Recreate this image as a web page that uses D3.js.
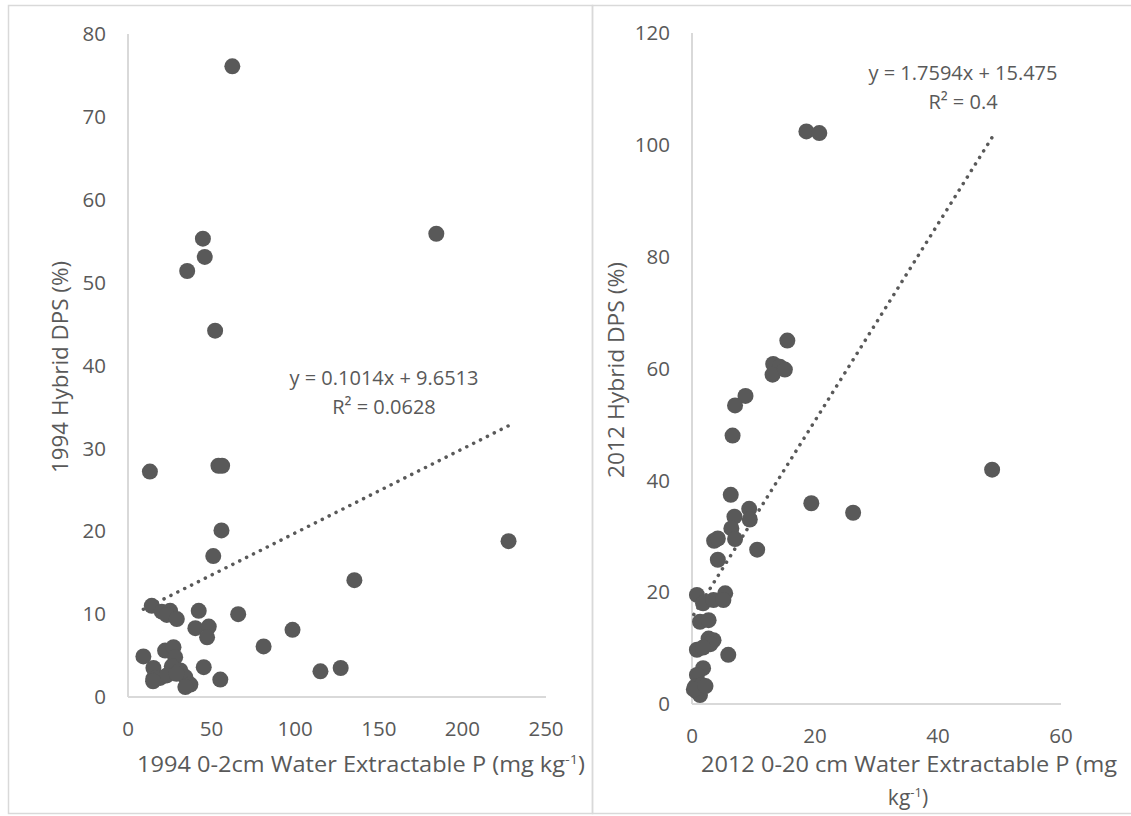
<!DOCTYPE html>
<html><head><meta charset="utf-8">
<script src="https://cdn.jsdelivr.net/npm/d3@7"></script>
<style>body{margin:0;background:#fff}svg{display:block}text{font-family:"Open Sans",sans-serif;fill:#595959}</style>
</head><body><svg id="c" width="1131" height="816"></svg>
<script>
// ---- data: 1994 panel ----
const x1994 = [62.4,184.4,44.8,45.9,35.4,52.1,13.1,54.1,56.3,55.9,51.0,227.6,135.4,14.2,20.2,25.2,23.2,29.2,42.3,65.9,40.3,48.3,47.3,98.4,81.1,9.2,22.2,27.2,28.2,26.2,15.2,15.2,19.2,23.2,31.3,34.3,37.3,34.3,45.3,55.2,115.1,127.2,15.0,29.0];
const y1994 = [76.1,55.9,55.3,53.1,51.4,44.2,27.2,27.9,27.9,20.1,17.0,18.8,14.1,11.0,10.3,10.4,9.9,9.4,10.4,10.0,8.3,8.5,7.2,8.1,6.1,4.9,5.6,6.0,4.8,3.7,3.5,2.2,2.3,2.6,3.2,2.4,1.5,1.2,3.6,2.1,3.1,3.5,1.9,2.8];
const xTicks1994 = [0,50,100,150,200,250];
const yTicks1994 = [0,10,20,30,40,50,60,70,80];
const fit1994 = {slope:0.1014, intercept:9.6513, eq:"y = 0.1014x + 9.6513", r2:"R² = 0.0628"};
// ---- data: 2012 panel ----
const x2012 = [18.6,20.7,48.8,19.4,26.2,15.5,13.2,14.3,13.1,15.1,8.7,7.0,6.6,6.3,9.3,9.4,6.9,6.4,7.0,3.6,4.2,10.6,4.2,0.8,1.8,3.5,5.4,5.1,1.3,2.7,2.7,3.5,3.0,0.8,1.8,5.9,1.8,0.8,0.5,1.6,0.8,1.3,0.3,2.2];
const y2012 = [102.4,102.1,41.9,35.9,34.2,65.0,60.8,60.3,58.9,59.8,55.1,53.4,48.0,37.4,34.9,33.0,33.5,31.4,29.5,29.2,29.6,27.6,25.8,19.5,18.0,18.6,19.8,18.6,14.7,15.0,11.7,11.4,10.7,9.7,10.1,8.8,6.4,5.2,3.1,3.4,2.2,1.6,2.6,3.2];
const xTicks2012 = [0,20,40,60];
const yTicks2012 = [0,20,40,60,80,100,120];
const fit2012 = {slope:1.7594, intercept:15.475, eq:"y = 1.7594x + 15.475", r2:"R² = 0.4"};

const svg = d3.select("#c");
const GRID = "#d9d9d9", INK = "#595959";

// frames
svg.append("rect").attr("x",8.5).attr("y",5.5).attr("width",584).attr("height",808).attr("fill","none").attr("stroke",GRID).attr("stroke-width",1.5);
svg.append("rect").attr("x",592.5).attr("y",5.5).attr("width",560).attr("height",808).attr("fill","none").attr("stroke",GRID).attr("stroke-width",1.5);

function panel(o){
  const x = d3.scaleLinear().domain(o.xd).range(o.xr);
  const y = d3.scaleLinear().domain(o.yd).range(o.yr);
  const g = svg.append("g");
  g.append("line").attr("x1",o.xr[0]).attr("x2",o.xr[0]).attr("y1",o.yr[0]).attr("y2",o.yr[1]).attr("stroke",GRID).attr("stroke-width",2);
  g.append("line").attr("x1",o.xr[0]).attr("x2",o.xr[1]).attr("y1",o.yr[0]).attr("y2",o.yr[0]).attr("stroke",GRID).attr("stroke-width",2);
  g.selectAll(".yt").data(o.yt).join("text").attr("x",o.xr[0]-22).attr("y",d=>y(d)).attr("dy","0.35em")
    .attr("text-anchor","end").attr("font-size",20.5).text(d=>d);
  g.selectAll(".xt").data(o.xt).join("text").attr("x",d=>x(d)).attr("y",o.yr[0]+32).attr("dy","0.35em")
    .attr("text-anchor","middle").attr("font-size",20.5).text(d=>d);
  const xs = d3.extent(o.xs);
  g.append("line").attr("x1",x(xs[0])).attr("y1",y(o.fit.slope*xs[0]+o.fit.intercept))
    .attr("x2",x(xs[1])).attr("y2",y(o.fit.slope*xs[1]+o.fit.intercept))
    .attr("stroke",INK).attr("stroke-width",3.5).attr("stroke-linecap","round").attr("stroke-dasharray","0.1 7.6");
  g.selectAll("circle").data(o.xs.map((v,i)=>[v,o.ys[i]])).join("circle")
    .attr("cx",d=>x(d[0])).attr("cy",d=>y(d[1])).attr("r",8).attr("fill",INK);
  g.append("text").attr("x",o.eqx).attr("y",o.eqy).attr("dy","0.35em").attr("text-anchor","middle").attr("font-size",20).text(o.fit.eq);
  g.append("text").attr("x",o.eqx).attr("y",o.eqy+29).attr("dy","0.35em").attr("text-anchor","middle").attr("font-size",20).text(o.fit.r2);
  g.append("text").attr("transform",`translate(${o.ytx},${o.yty}) rotate(-90)`).attr("dy","0.35em")
    .attr("text-anchor","middle").attr("font-size",22).attr("textLength",o.ytl).attr("lengthAdjust","spacingAndGlyphs").text(o.ytitle);
  return {g,x,y};
}

panel({xd:[0,250], xr:[128,546], yd:[0,80], yr:[697,34], xt:xTicks1994, yt:yTicks1994,
  xs:x1994, ys:y1994, fit:fit1994, eqx:384, eqy:378, ytx:60, yty:367, ytl:212, ytitle:"1994 Hybrid DPS (%)"});
panel({xd:[0,60], xr:[692,1061], yd:[0,120], yr:[704,33], xt:xTicks2012, yt:yTicks2012,
  xs:x2012, ys:y2012, fit:fit2012, eqx:963, eqy:73, ytx:616, yty:370, ytl:216, ytitle:"2012 Hybrid DPS (%)"});

const t1 = svg.append("text").attr("x",361).attr("y",772).attr("text-anchor","middle").attr("font-size",21)
  .attr("textLength",448).attr("lengthAdjust","spacingAndGlyphs");
t1.append("tspan").text("1994 0-2cm Water Extractable P (mg kg");
t1.append("tspan").attr("dy",-8).attr("font-size",13).text("-1");
t1.append("tspan").attr("dy",8).text(")");

svg.append("text").attr("x",909).attr("y",772).attr("text-anchor","middle").attr("font-size",21)
  .attr("textLength",416).attr("lengthAdjust","spacingAndGlyphs").text("2012 0-20 cm Water Extractable P (mg");
const t2 = svg.append("text").attr("x",908).attr("y",805).attr("text-anchor","middle").attr("font-size",21);
t2.append("tspan").text("kg");
t2.append("tspan").attr("dy",-8).attr("font-size",13).text("-1");
t2.append("tspan").attr("dy",8).text(")");
</script></body></html>
